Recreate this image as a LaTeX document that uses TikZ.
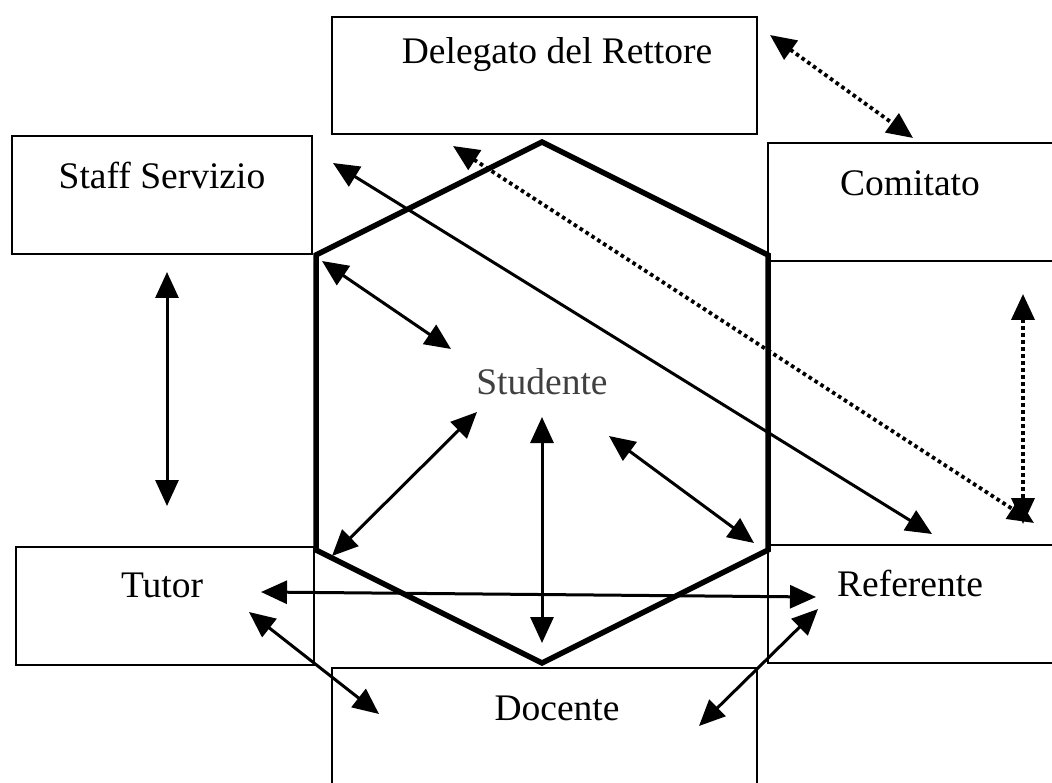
\documentclass[tikz,border=0pt]{standalone}
\usepackage{fontspec}
\setmainfont{Liberation Serif}
\usetikzlibrary{arrows.meta}
\begin{document}
\begin{tikzpicture}[x=1pt,y=-1pt,
  box/.style={draw,line width=2.4pt},
  lbl/.style={font=\fontsize{37.5}{40}\selectfont,inner sep=0pt},
  arr/.style={line width=3pt,{Triangle[length=26pt,width=23pt]}-{Triangle[length=26pt,width=23pt]}},
  dotarr/.style={arr,line width=3.8pt,dash pattern=on 3.6pt off 3.4pt},
  hexa/.style={draw,line width=5.5pt,line join=miter}]
\useasboundingbox (0,0) rectangle (1052,783);
% boxes
\draw[box] (332,17) rectangle (757,134);
\draw[box] (12,136) rectangle (312,254);
\draw[box] (768,143) rectangle (1070,261);
\draw[box] (16,547) rectangle (314,665);
\draw[box] (768,545) rectangle (1070,663);
\draw[box] (332,668) rectangle (757,800);
% hexagon
\draw[hexa] (542,142) -- (768,255) -- (768,550) -- (542,663) -- (316,550) -- (316,255) -- cycle;
% labels
\node[lbl] (del) at (557,55) {Delegato del Rettore};
\node[lbl] (staff) at (162,175) {Staff Servizio};
\node[lbl] (com) at (910,183) {Comitato};
\node[lbl] (tut) at (162,585) {Tutor};
\node[lbl] (ref) at (910,583) {Referente};
\node[lbl] (doc) at (557,708) {Docente};
\node[lbl,text=black!75] (stu) at (542,382) {Studente};
% arrow end points
\coordinate (a1) at (770,35);   \coordinate (b1) at (913,138);
\coordinate (a2) at (167,272);  \coordinate (b2) at (167,506);
\coordinate (a3) at (1023,294); \coordinate (b3) at (1023,524);
\coordinate (a4) at (333,163);  \coordinate (b4) at (932,534);
\coordinate (a5) at (453,146);  \coordinate (b5) at (1034,523);
\coordinate (a6) at (322,261);  \coordinate (b6) at (451,349);
\coordinate (a7) at (332,556);  \coordinate (b7) at (477,412);
\coordinate (a8) at (542,417);  \coordinate (b8) at (542,643);
\coordinate (a9) at (609,436);  \coordinate (b9) at (754,543);
\coordinate (a10) at (261,592); \coordinate (b10) at (816,597);
\coordinate (a11) at (249,612); \coordinate (b11) at (379,714);
\coordinate (a12) at (818,609); \coordinate (b12) at (699,726);
% arrows
\draw[dotarr] (a1) -- (b1);
\draw[arr] (a2) -- (b2);
\draw[dotarr] (a3) -- (b3);
\draw[arr] (a4) -- (b4);
\draw[dotarr] (a5) -- (b5);
\draw[arr] (a6) -- (b6);
\draw[arr] (a7) -- (b7);
\draw[arr] (a8) -- (b8);
\draw[arr] (a9) -- (b9);
\draw[arr] (a10) -- (b10);
\draw[arr] (a11) -- (b11);
\draw[arr] (a12) -- (b12);
\end{tikzpicture}
\end{document}
